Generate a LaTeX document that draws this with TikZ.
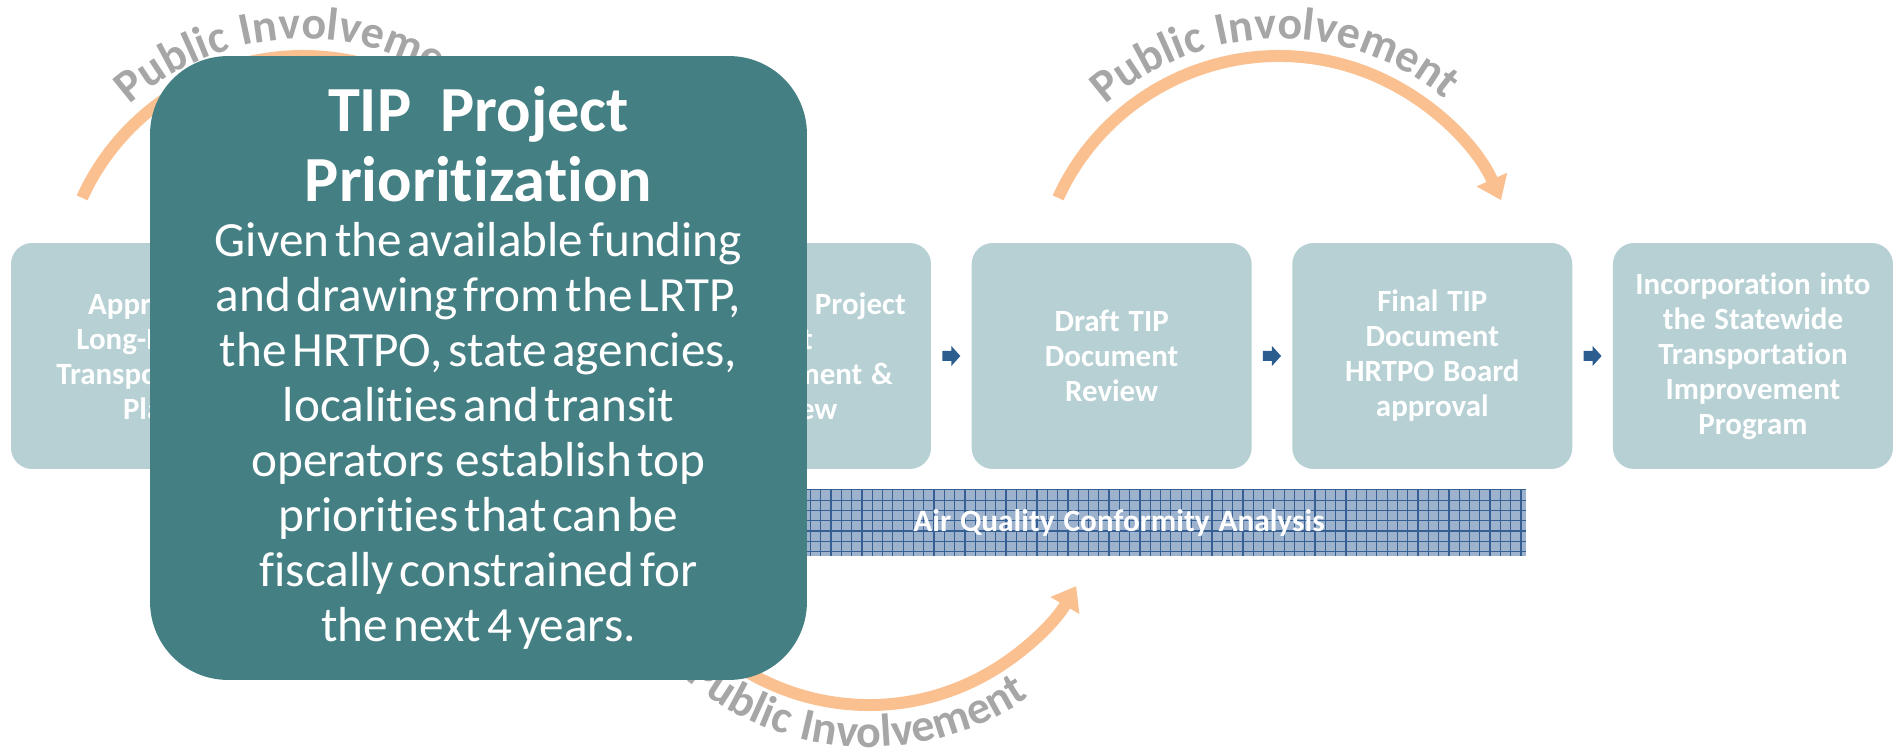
\documentclass[tikz,border=0pt]{standalone}
\usepackage{fontspec}
\setmainfont{Carlito}[Ligatures={NoCommon,NoContextual},WordSpace=1.25]
\usepackage{xcolor}
\usepackage{tikz}
\usetikzlibrary{positioning,arrows.meta,decorations.text}
\definecolor{stagefill}{HTML}{B6D0D3}
\definecolor{prioteal}{HTML}{437F83}
\definecolor{flowblue}{HTML}{2C5D8F}
\definecolor{pubarc}{HTML}{FAC090}
\definecolor{pubgray}{HTML}{A6A6A6}
\definecolor{aqfill}{HTML}{9DB2CD}
\definecolor{aqline}{HTML}{365F93}

\begin{document}
\begin{tikzpicture}[x=0.02cm,y=0.02cm,
  stage/.style={rectangle,rounded corners=12pt,fill=stagefill,minimum width=5.6cm,minimum height=4.52cm,
    inner sep=0pt,align=center,text=white,font=\fontsize{17.6}{19.9}\selectfont\bfseries},
  flowarrow/.pic={\fill[flowblue] (-9,-5) -- (0,-5) -- (0,-10) -- (9,0) -- (0,10) -- (0,5) -- (-9,5) -- cycle;},
  pubcurve/.style={line width=6.8pt,pubarc,-{Triangle[length=12.8pt,width=18.2pt]}},
  pubtext/.style={decorate,decoration={text along path,text align=center,
    text={|\fontsize{26.2}{28}\selectfont\bfseries\color{pubgray}|Public Involvement}}},
  aqbar/.style={rectangle,fill=aqfill,minimum width=16.28cm,minimum height=1.34cm,inner sep=0pt,
    text=white,font=\fontsize{17.8}{19}\selectfont\bfseries,
    path picture={\draw[aqline,line width=0.7pt,step=0.206cm] (path picture bounding box.south west) grid (path picture bounding box.north east);}},
  prio/.style={rectangle,rounded corners=44.4pt,fill=prioteal,minimum width=13.14cm,minimum height=12.48cm,
    text width=12.4cm,inner sep=0pt,align=center,text=white}]
  \path[use as bounding box,fill=white] (0,0) rectangle (1899,754);

  % Public involvement arcs
  \coordinate (arcleft) at (303,455);
  \coordinate (arcright) at (1279,455);
  \coordinate (arclow) at (869,289);
  \draw[pubcurve] (arcleft) ++(155.4:243) arc[start angle=155.4,end angle=24,radius=243];
  \draw[pubcurve] (arcright) ++(155.4:243) arc[start angle=155.4,end angle=24,radius=243];
  \draw[pubcurve] (arclow) ++(-150:240) arc[start angle=-150,end angle=-30.3,radius=240];
  \path[pubtext] (arcleft) ++(161:260) arc[start angle=161,end angle=21,radius=260];
  \path[pubtext] (arcright) ++(161:260) arc[start angle=161,end angle=21,radius=260];
  \path[pubtext] (arclow) ++(-153:282) arc[start angle=-153,end angle=-33,radius=282];

  % Process steps
  \node[stage] (lrtp) at (151,398) {Approved\\Long-Range\\Transportation\\Plan};
  \node[stage] (cand) at (791,398) {Candidate Project\\List\\Development \&\\Review};
  \node[stage,right=0.8cm of cand] (draft) {Draft TIP\\Document\\Review};
  \node[stage,right=0.8cm of draft] (final) {Final TIP\\Document\\HRTPO Board\\approval};
  \node[stage,right=0.8cm of final] (stip) {Incorporation into\\the Statewide\\Transportation\\Improvement\\Program};

  % Step arrows
  \foreach \a/\b in {cand/draft,draft/final,final/stip}
    \path (\a) -- coordinate[midway] (\a-go) (\b) (\a-go) pic {flowarrow};

  \node[aqbar] (aq) at (1119,231.5) {Air Quality Conformity Analysis};

  % Zoomed step
  \node[prio] (prio) at (478.5,386) {%
    {\fontsize{36.6}{39.8}\selectfont\bfseries TIP\hspace{0.45em}Project\hspace*{0.3em}\\Prioritization\par}%
    {\fontsize{28}{31.3}\selectfont Given the available funding\\and drawing from the LRTP,\\the HRTPO, state agencies,\\localities and transit\\operators~ establish top\\priorities that can be\\fiscally constrained for\\the next 4 years.\par}};
\end{tikzpicture}
\end{document}
